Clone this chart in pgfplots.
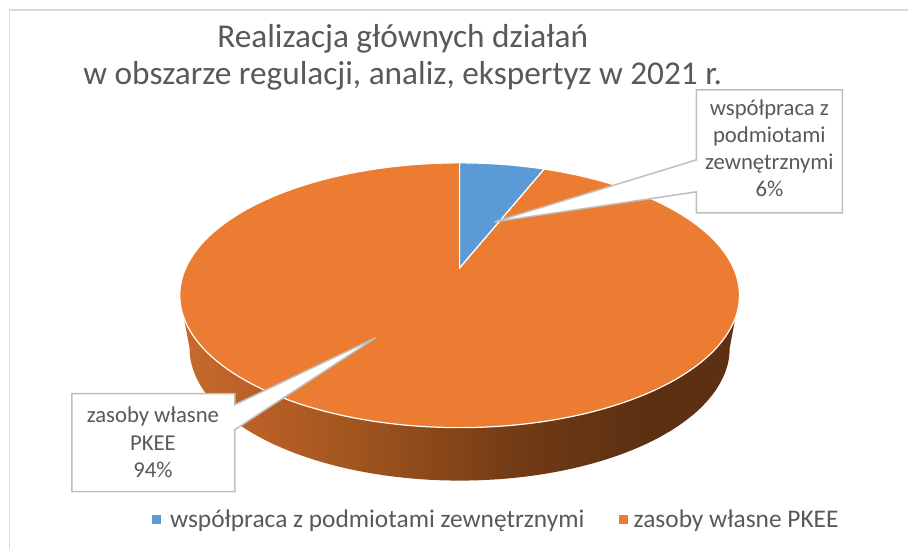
\documentclass[border=0pt]{standalone}
\usepackage{pgfplots}
\pgfplotsset{compat=1.18}
\usepackage{pgfplotstable}
\usepackage{fontspec}
\setmainfont{Carlito}
\definecolor{pblue}{HTML}{5B9BD5}
\definecolor{porange}{HTML}{EC7C31}
\definecolor{txt}{HTML}{595959}
\definecolor{boxgray}{HTML}{BFBFBF}
\definecolor{frame}{HTML}{D9D9D9}
\definecolor{s0}{HTML}{C86A2C}
\definecolor{s1}{HTML}{BC6127}
\definecolor{s2}{HTML}{A3561F}
\definecolor{s3}{HTML}{723B15}
\definecolor{s4}{HTML}{5D3012}
\pgfdeclarehorizontalshading{sideshade}{100bp}{color(0bp)=(s0); color(25bp)=(s0); color(31bp)=(s1); color(40bp)=(s2); color(55bp)=(s3); color(66bp)=(s4); color(100bp)=(s4)}

\pgfplotstableread{
part value
wspolpraca 6
zasoby 94
}\piedata

\begin{document}%
\begin{tikzpicture}
\pgfplotstablegetelem{0}{value}\of\piedata
\pgfmathsetmacro\angA{360*\pgfplotsretval/100}
\def\cx{460}\def\cy{268}\def\A{274}\def\B{126.8}\def\k{0.2075}\def\D{53}\def\s{0.965}
\pgfmathsetmacro\sil{1/sqrt(1-\k*\k)}
\pgfmathsetmacro\tR{acos(-\k)}
\pgfmathsetmacro\tL{360-\tR}
\pgfmathsetmacro\ysil{\cy+\B*\k/(1-\k*\k)}
\pgfmathsetmacro\xTL{\cx-\A*\sil}
\pgfmathsetmacro\xTR{\cx+\A*\sil}
\begin{axis}[scale only axis, width=909bp, height=549bp,
  xmin=0, xmax=909, ymin=0, ymax=549, y dir=reverse,
  hide axis, clip=false]
\fill[white] (axis cs:0,0) rectangle (axis cs:909,549);
\draw[frame, line width=1.5bp] (axis cs:9.5,549) -- (axis cs:9.5,10) -- (axis cs:909,10);
% side of the pie
\addplot[draw=none, shade, shading=sideshade, domain=\tR:\tL, samples=90, variable=\t]
  ({\cx + \s*\A*sin(\t)/(1+\k*cos(\t))}, {\cy + \D - \B*cos(\t)/(1+\k*cos(\t))})
  -- (axis cs:\xTL,\ysil) -- (axis cs:\xTR,\ysil) -- cycle;
% orange slice (top face)
\addplot[fill=porange, draw=white, line width=1.2bp, domain=\angA:360, samples=181, variable=\t]
  ({\cx + \A*sin(\t)/(1+\k*cos(\t))}, {\cy - \B*cos(\t)/(1+\k*cos(\t))})
  -- (axis cs:\cx,\cy) -- cycle;
% blue slice
\addplot[fill=pblue, draw=white, line width=1.2bp, domain=0:\angA, samples=20, variable=\t]
  ({\cx + \A*sin(\t)/(1+\k*cos(\t))}, {\cy - \B*cos(\t)/(1+\k*cos(\t))})
  -- (axis cs:\cx,\cy) -- cycle;
% callouts
\draw[boxgray, fill=white, line width=1.5bp, line join=miter]
  (axis cs:697,90) -- (axis cs:843,90) -- (axis cs:843,213) -- (axis cs:697,213)
  -- (axis cs:697,192) -- (axis cs:495,222) -- (axis cs:697,160) -- cycle;
\draw[boxgray, fill=white, line width=1.5bp, line join=miter]
  (axis cs:72,394) -- (axis cs:235,394) -- (axis cs:235,405) -- (axis cs:376,338)
  -- (axis cs:235,430) -- (axis cs:235,492) -- (axis cs:72,492) -- cycle;
\begin{scope}[every node/.style={text=txt, inner sep=0pt, anchor=base, font=\fontsize{22.7bp}{27bp}\selectfont}]
\node at (axis cs:770,116) {współpraca z};
\node at (axis cs:770,143) {podmiotami};
\node at (axis cs:770,170) {zewnętrznymi};
\node at (axis cs:770,197) {6\%};
\node at (axis cs:153,423) {zasoby własne};
\node at (axis cs:153,451) {PKEE};
\node at (axis cs:153,478) {94\%};
\end{scope}
% title
\begin{scope}[every node/.style={text=txt, inner sep=0pt, anchor=base, font=\fontsize{33.3bp}{40bp}\selectfont}]
\node at (axis cs:403,48) {Realizacja głównych działań};
\node at (axis cs:403,85) {w obszarze regulacji, analiz, ekspertyz w 2021 r.};
\end{scope}
% legend
\fill[pblue] (axis cs:152,515) rectangle (axis cs:161,524);
\fill[porange] (axis cs:620,515) rectangle (axis cs:629,524);
\begin{scope}[every node/.style={text=txt, inner sep=0pt, anchor=base west, font=\fontsize{25.4bp}{30bp}\selectfont}]
\node at (axis cs:170,528) {współpraca z podmiotami zewnętrznymi};
\node at (axis cs:634,528) {zasoby własne PKEE};
\end{scope}
\end{axis}
\end{tikzpicture}%
\end{document}
